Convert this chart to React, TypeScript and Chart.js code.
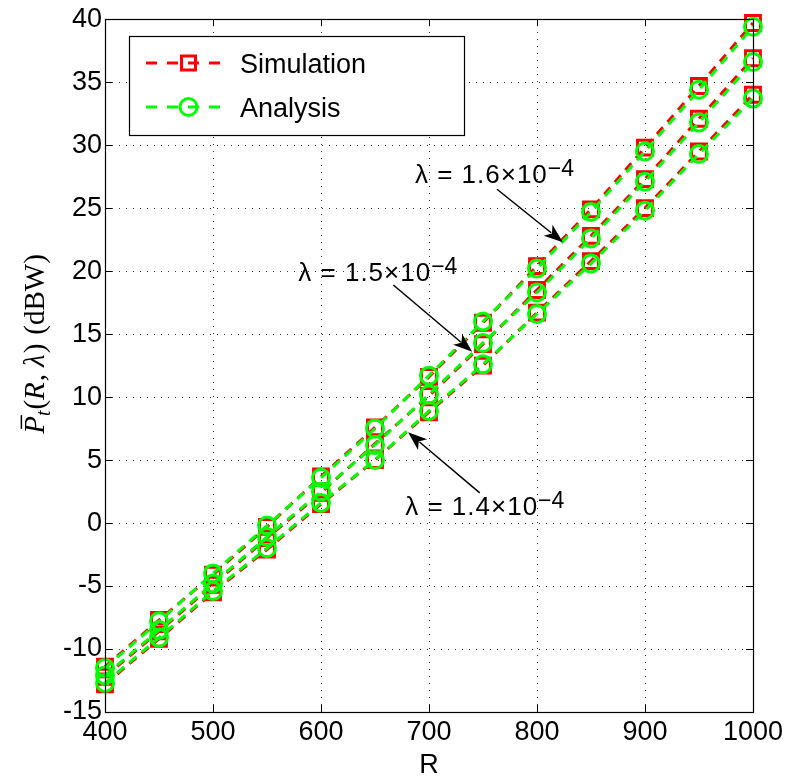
import React, { useEffect, useRef } from "react";
import { Chart, registerables } from "chart.js";

Chart.register(...registerables);

// ---------- data ----------
const R_VALUES = [400, 450, 500, 550, 600, 650, 700, 750, 800, 850, 900, 950, 1000];

const ANALYSIS_16 = [-11.5, -7.8, -4.0, -0.2, 3.6, 7.5, 11.7, 16.0, 20.2, 24.7, 29.5, 34.4, 39.4];
const ANALYSIS_15 = [-12.1, -8.5, -4.8, -1.1, 2.5, 6.2, 10.2, 14.3, 18.3, 22.6, 27.1, 31.8, 36.6];
const ANALYSIS_14 = [-12.7, -9.1, -5.4, -2.0, 1.6, 5.0, 8.9, 12.6, 16.6, 20.6, 24.8, 29.3, 33.7];

const SIM_16 = [-11.4, -7.7, -4.1, -0.3, 3.7, 7.6, 11.6, 15.9, 20.4, 24.9, 29.8, 34.7, 39.7];
const SIM_15 = [-12.2, -8.6, -4.9, -1.2, 2.4, 6.3, 10.1, 14.2, 18.5, 22.8, 27.3, 32.1, 36.9];
const SIM_14 = [-12.8, -9.2, -5.5, -2.1, 1.5, 5.0, 8.8, 12.5, 16.7, 20.8, 25.0, 29.5, 34.0];

const X_MIN = 400;
const X_MAX = 1000;
const X_STEP = 100;
const Y_MIN = -15;
const Y_MAX = 40;
const Y_STEP = 5;

const LEGEND_LABELS = ["Simulation", "Analysis"];
const X_TITLE = "R";

// annotation labels with anchor points in data coordinates
const ANNOTATIONS = [
  { label: "λ = 1.6×10", exp: "−4", text: [687, 27.0], tail: [763, 26.5], tip: [824, 22.3] },
  { label: "λ = 1.5×10", exp: "−4", text: [579, 19.2], tail: [667, 18.9], tip: [740, 13.6] },
  { label: "λ = 1.4×10", exp: "−4", text: [678, 0.6], tail: [747, 2.4], tip: [680.6, 7.2] },
];

const RED = "#ff0000";
const GREEN = "#00ff00";
const SANS = '"Liberation Sans", Arial, Helvetica, sans-serif';
const SERIF = '"Liberation Serif", "Times New Roman", serif';

const toPts = (ys: number[]) => R_VALUES.map((x, i) => ({ x, y: ys[i] }));

function drawArrow(ctx: CanvasRenderingContext2D, x0: number, y0: number, x1: number, y1: number) {
  const ang = Math.atan2(y1 - y0, x1 - x0);
  const headLen = 19;
  const headW = 7;
  const bx = x1 - headLen * Math.cos(ang);
  const by = y1 - headLen * Math.sin(ang);
  ctx.save();
  ctx.strokeStyle = "#000";
  ctx.fillStyle = "#000";
  ctx.lineWidth = 1.5;
  ctx.beginPath();
  ctx.moveTo(x0, y0);
  ctx.lineTo(bx + 4 * Math.cos(ang), by + 4 * Math.sin(ang));
  ctx.stroke();
  const px = -Math.sin(ang);
  const py = Math.cos(ang);
  const nx = x1 - (headLen - 5) * Math.cos(ang);
  const ny = y1 - (headLen - 5) * Math.sin(ang);
  ctx.beginPath();
  ctx.moveTo(x1, y1);
  ctx.lineTo(bx + px * headW, by + py * headW);
  ctx.lineTo(nx, ny);
  ctx.lineTo(bx - px * headW, by - py * headW);
  ctx.closePath();
  ctx.fill();
  ctx.restore();
}

const decorPlugin = {
  id: "decor",
  beforeDatasetsDraw(chart: any) {
    const { ctx, chartArea: a, scales } = chart;
    const xs = scales.x;
    const ys = scales.y;
    ctx.save();
    ctx.strokeStyle = "rgba(0,0,0,0.8)";
    ctx.lineWidth = 1;
    ctx.setLineDash([1, 6]);
    for (let v = X_MIN + X_STEP; v < X_MAX; v += X_STEP) {
      const x = Math.round(xs.getPixelForValue(v)) + 0.5;
      ctx.beginPath();
      ctx.moveTo(x, a.bottom);
      ctx.lineTo(x, a.top);
      ctx.stroke();
    }
    for (let v = Y_MIN + Y_STEP; v < Y_MAX; v += Y_STEP) {
      const y = Math.round(ys.getPixelForValue(v)) + 0.5;
      ctx.beginPath();
      ctx.moveTo(a.left, y);
      ctx.lineTo(a.right, y);
      ctx.stroke();
    }
    ctx.restore();
  },
  afterDatasetsDraw(chart: any) {
    const { ctx, chartArea: a, scales } = chart;
    const xs = scales.x;
    const ys = scales.y;
    ctx.save();
    // box
    ctx.strokeStyle = "#000";
    ctx.lineWidth = 1.2;
    ctx.setLineDash([]);
    ctx.strokeRect(Math.round(a.left) + 0.5, Math.round(a.top) + 0.5, Math.round(a.right - a.left), Math.round(a.bottom - a.top));
    // inward ticks
    const tl = 7;
    ctx.lineWidth = 1;
    for (let v = X_MIN; v <= X_MAX; v += X_STEP) {
      const x = Math.round(xs.getPixelForValue(v)) + 0.5;
      ctx.beginPath();
      ctx.moveTo(x, a.bottom);
      ctx.lineTo(x, a.bottom - tl);
      ctx.moveTo(x, a.top);
      ctx.lineTo(x, a.top + tl);
      ctx.stroke();
    }
    for (let v = Y_MIN; v <= Y_MAX; v += Y_STEP) {
      const y = Math.round(ys.getPixelForValue(v)) + 0.5;
      ctx.beginPath();
      ctx.moveTo(a.left, y);
      ctx.lineTo(a.left + tl, y);
      ctx.moveTo(a.right, y);
      ctx.lineTo(a.right - tl, y);
      ctx.stroke();
    }

    // legend
    const lx0 = 129, ly0 = 36, lx1 = 464, ly1 = 135;
    ctx.fillStyle = "#fff";
    ctx.fillRect(lx0, ly0, lx1 - lx0, ly1 - ly0);
    ctx.strokeStyle = "#000";
    ctx.lineWidth = 1.2;
    ctx.strokeRect(lx0 + 0.5, ly0 + 0.5, lx1 - lx0, ly1 - ly0);
    const entries = [
      { color: RED, y: 63, marker: "rect" },
      { color: GREEN, y: 107, marker: "circle" },
    ];
    entries.forEach((e, i) => {
      ctx.strokeStyle = e.color;
      ctx.lineWidth = 3;
      ctx.setLineDash([11, 10]);
      ctx.beginPath();
      ctx.moveTo(146, e.y);
      ctx.lineTo(222, e.y);
      ctx.stroke();
      ctx.setLineDash([]);
      ctx.lineWidth = 3;
      ctx.beginPath();
      if (e.marker === "rect") {
        ctx.rect(188.5 - 7, e.y - 7, 14, 14);
      } else {
        ctx.arc(188.5, e.y, 8.5, 0, Math.PI * 2);
      }
      ctx.stroke();
      ctx.fillStyle = "#000";
      ctx.font = `27px ${SANS}`;
      ctx.textAlign = "left";
      ctx.textBaseline = "alphabetic";
      ctx.fillText(LEGEND_LABELS[i], 240, e.y + 10);
    });

    // annotations
    ANNOTATIONS.forEach((an) => {
      const tx = xs.getPixelForValue(an.text[0]);
      const ty = ys.getPixelForValue(an.text[1]);
      ctx.fillStyle = "#000";
      ctx.textAlign = "left";
      ctx.textBaseline = "alphabetic";
      ctx.font = `26px ${SANS}`;
      (ctx as any).letterSpacing = "1px";
      ctx.fillText(an.label, tx, ty);
      const w = ctx.measureText(an.label).width;
      (ctx as any).letterSpacing = "0px";
      ctx.font = `23px ${SANS}`;
      ctx.fillText(an.exp, tx + w, ty - 7);
      drawArrow(
        ctx,
        xs.getPixelForValue(an.tail[0]),
        ys.getPixelForValue(an.tail[1]),
        xs.getPixelForValue(an.tip[0]),
        ys.getPixelForValue(an.tip[1])
      );
    });

    // x title
    ctx.fillStyle = "#000";
    ctx.font = `27px ${SANS}`;
    ctx.textAlign = "center";
    ctx.textBaseline = "alphabetic";
    ctx.fillText(X_TITLE, (a.left + a.right) / 2, 773);

    // y title (rotated, LaTeX-like)
    const fs = 29;
    const parts = [
      { t: "P", f: `italic ${fs}px ${SERIF}`, dy: 0, bar: true, gap: 0 },
      { t: "t", f: `italic ${Math.round(fs * 0.7)}px ${SERIF}`, dy: 6, gap: 1 },
      { t: "(", f: `${fs}px ${SERIF}`, dy: 0, gap: 0 },
      { t: "R", f: `italic ${fs}px ${SERIF}`, dy: 0, gap: 1 },
      { t: ",", f: `${fs}px ${SERIF}`, dy: 0, gap: 7 },
      { t: "λ", f: `italic ${fs}px ${SERIF}`, dy: 0, gap: 1 },
      { t: ")", f: `${fs}px ${SERIF}`, dy: 0, gap: 9 },
      { t: "(dBW)", f: `${fs}px ${SERIF}`, dy: 0, gap: 0 },
    ];
    let total = 0;
    const widths = parts.map((p) => {
      ctx.font = p.f;
      const w = ctx.measureText(p.t).width + p.gap;
      total += w;
      return w;
    });
    ctx.translate(44, 344);
    ctx.rotate(-Math.PI / 2);
    let cx = -total / 2;
    ctx.textAlign = "left";
    parts.forEach((p, i) => {
      ctx.font = p.f;
      ctx.fillText(p.t, cx, p.dy);
      if ((p as any).bar) {
        ctx.strokeStyle = "#000";
        ctx.lineWidth = 1.5;
        ctx.beginPath();
        ctx.moveTo(cx + 5, -fs * 0.78);
        ctx.lineTo(cx + widths[i] + 1, -fs * 0.78);
        ctx.stroke();
      }
      cx += widths[i];
    });
    ctx.restore();
  },
};

const lineDs = (data: number[], color: string, style: string, radius: number) => ({
  data: toPts(data),
  borderColor: color,
  backgroundColor: "rgba(0,0,0,0)",
  borderWidth: 3,
  borderDash: [9, 7],
  pointStyle: style,
  pointRadius: radius,
  pointBorderWidth: 3,
  pointBorderColor: color,
  pointBackgroundColor: "rgba(0,0,0,0)",
  fill: false,
  tension: 0,
  clip: false,
});

export default function App() {
  const ref = useRef<HTMLCanvasElement | null>(null);
  useEffect(() => {
    if (!ref.current) return;
    const chart = new Chart(ref.current, {
      type: "line",
      data: {
        datasets: [
          lineDs(ANALYSIS_16, GREEN, "circle", 8.5),
          lineDs(ANALYSIS_15, GREEN, "circle", 8.5),
          lineDs(ANALYSIS_14, GREEN, "circle", 8.5),
          lineDs(SIM_16, RED, "rect", 10.5),
          lineDs(SIM_15, RED, "rect", 10.5),
          lineDs(SIM_14, RED, "rect", 10.5),
        ] as any,
      },
      options: {
        responsive: false,
        animation: false,
        devicePixelRatio: 1,
        layout: { padding: { top: 19, right: 34, left: 0, bottom: 0 } },
        plugins: { legend: { display: false }, tooltip: { enabled: false } },
        scales: {
          x: {
            type: "linear",
            min: X_MIN,
            max: X_MAX,
            grid: { display: false, drawTicks: false },
            border: { display: false },
            ticks: {
              stepSize: X_STEP,
              autoSkip: false,
              maxRotation: 0,
              padding: 4,
              color: "#000",
              font: { family: SANS, size: 27 },
              callback: (v: any) => String(v),
            },
            afterFit: (s: any) => {
              s.height = 65;
            },
          },
          y: {
            type: "linear",
            min: Y_MIN,
            max: Y_MAX,
            grid: { display: false, drawTicks: false },
            border: { display: false },
            ticks: {
              stepSize: Y_STEP,
              autoSkip: false,
              padding: 3,
              color: "#000",
              font: { family: SANS, size: 27 },
              callback: (v: any) => String(v),
            },
            afterFit: (s: any) => {
              s.width = 105;
            },
          },
        },
      } as any,
      plugins: [decorPlugin],
    });
    return () => chart.destroy();
  }, []);
  return (
    <div style={{ position: "fixed", left: 0, top: 0, width: 787, height: 777, background: "#fff" }}>
      <canvas ref={ref} width={787} height={777} />
    </div>
  );
}
